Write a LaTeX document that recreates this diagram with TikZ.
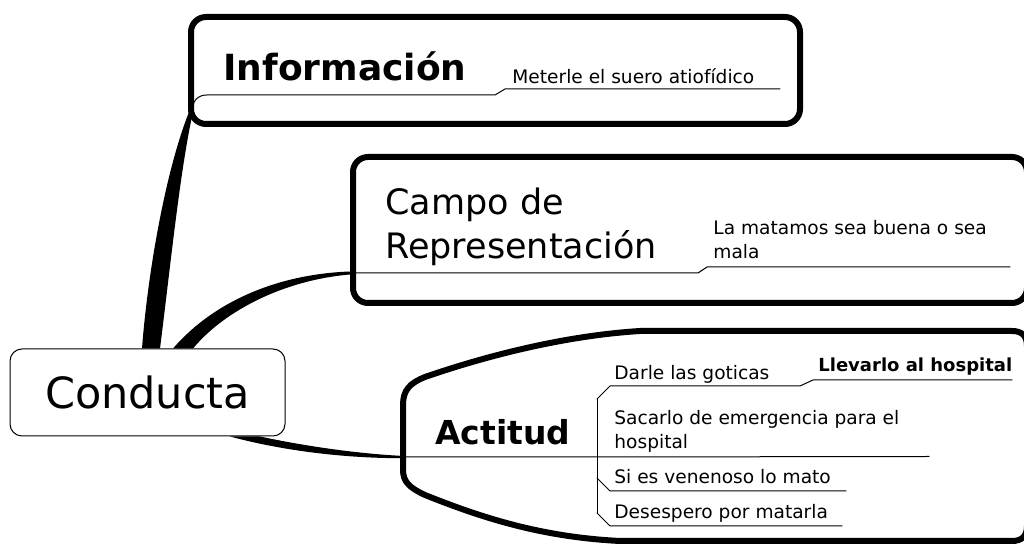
\documentclass[tikz,border=0pt]{standalone}
\usepackage{fontspec}
\setmainfont{DejaVu Sans}

\begin{document}
\begin{tikzpicture}[x=0.5pt,y=-0.5pt,line join=round,line cap=round,
  frame/.style={line width=3pt,rounded corners=7.5pt},
  twig/.style={line width=0.5pt},
  topic/.style={anchor=base west,inner sep=0pt,align=left,font=\fontsize{17.5}{22}\selectfont},
  leaf/.style={anchor=base west,inner sep=0pt,align=left,font=\fontsize{9.3}{12.3}\selectfont}]
\fill[white] (0,0) rectangle (1024,544);
\useasboundingbox (0,0) rectangle (1024,544);

\node[draw,rounded corners=6pt,line width=0.5pt,minimum width=137.5pt,minimum height=43.5pt,inner sep=0pt,font=\fontsize{21.5}{26}\selectfont] (cond) at (147.5,392.5) {Conducta};

\draw[frame] (191,17) rectangle (800,124);
\coordinate (inf-root) at (191,112);
\node[topic,font=\fontsize{18}{22}\selectfont\bfseries] (inf) at (223,81) {Información};
\node[leaf] (inf-a) at (512,84) {Meterle el suero atiofídico};
\draw[twig] (inf-root) .. controls (193,100) and (198,95) .. (207,95) -- (495,95) -- (505,89) -- (780,89);

\draw[frame] (353,157) rectangle (1027,303);
\coordinate (camp-root) at (350,273);
\node[topic] (camp) at (385,259) {Campo de\\Representación};
\node[leaf] (camp-a) at (713,259) {La matamos sea buena o sea\\mala};
\draw[twig] (camp-root) -- (698,273) -- (707,267) -- (1010,267);

\draw[line width=3pt] (640,331) .. controls (560,336) and (480,358) .. (425,377)
  .. controls (410,383) and (403,390) .. (403,405) -- (403,470)
  .. controls (403,482) and (410,488) .. (425,495)
  .. controls (480,517) and (540,537) .. (620,541) -- (1012,541)
  .. controls (1022,541) and (1027,536) .. (1027,526) -- (1027,346)
  .. controls (1027,336) and (1022,331) .. (1012,331) -- cycle;
\coordinate (act-root) at (400,457);
\coordinate (act-fork) at (597,457);
\coordinate (act-up) at (597,399);
\coordinate (act-mid) at (597,478);
\coordinate (act-down) at (597,513);
\node[topic,font=\fontsize{16.5}{20}\selectfont\bfseries] (act) at (435,445) {Actitud};
\node[leaf] (act-a) at (614,380) {Darle las goticas};
\node[leaf,font=\fontsize{9}{12}\selectfont\bfseries] (act-a1) at (818,372) {Llevarlo al hospital};
\node[leaf] (act-b) at (614,449) {Sacarlo de emergencia para el\\hospital};
\node[leaf] (act-c) at (614,484) {Si es venenoso lo mato};
\node[leaf] (act-d) at (614,519) {Desespero por matarla};
\draw[twig] (act-root) -- (act-fork) -- (929,456.5);
\draw[twig] (act-up) -- (act-down);
\draw[twig] (act-up) -- (610,386) -- (800,386) -- (813,380) -- (1012,380);
\draw[twig] (act-mid) -- (610,491) -- (846,491);
\draw[twig] (act-down) -- (610,526) -- (842,526);

\fill ([xshift=-2.75pt]cond.north) .. controls (148,270) and (166,170) .. ([xshift=-1pt]inf-root)
  -- ([xshift=1pt]inf-root) .. controls (180,170) and (170,270) .. ([xshift=6.25pt]cond.north) -- cycle;
\fill ([xshift=12.75pt]cond.north) .. controls (215,300) and (280,274) .. ([yshift=0.75pt]camp-root)
  -- ([yshift=-0.75pt]camp-root) .. controls (285,280) and (225,310) .. ([xshift=22.75pt]cond.north) -- cycle;
\fill ([xshift=56.25pt]cond.south) .. controls (300,445) and (350,453) .. ([yshift=0.6pt]act-root)
  -- ([yshift=-0.6pt]act-root) .. controls (340,458) and (280,450) .. ([xshift=41.25pt]cond.south) -- cycle;
\end{tikzpicture}
\end{document}
